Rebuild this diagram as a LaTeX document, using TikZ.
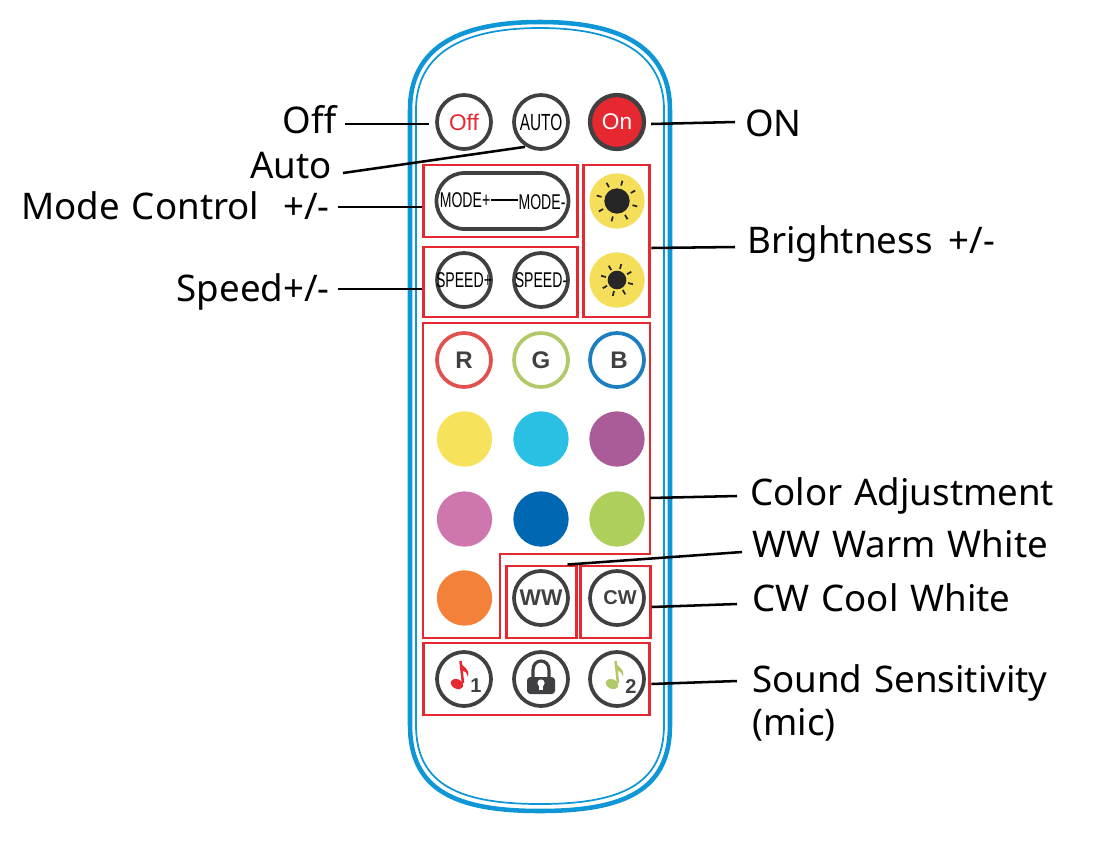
\documentclass[tikz,border=0pt]{standalone}
\usepackage{xcolor}
\usepackage{fontspec}
\setmainfont{Noto Sans}
\newfontfamily\btnfont{Liberation Sans}
\definecolor{remoteblue}{RGB}{14, 150, 214}
\definecolor{groupred}{RGB}{230, 40, 48}
\definecolor{btngrey}{RGB}{64, 64, 66}
\definecolor{sunyellow}{RGB}{245, 222, 90}
\definecolor{ringred}{RGB}{224, 82, 79}
\definecolor{ringgreen}{RGB}{178, 201, 106}
\definecolor{ringblue}{RGB}{27, 127, 191}
\definecolor{dotyellow}{RGB}{247, 227, 91}
\definecolor{dotcyan}{RGB}{41, 192, 227}
\definecolor{dotpurple}{RGB}{169, 92, 151}
\definecolor{dotpink}{RGB}{206, 118, 174}
\definecolor{dotnavy}{RGB}{0, 104, 178}
\definecolor{dotlime}{RGB}{175, 207, 93}
\definecolor{dotorange}{RGB}{243, 129, 58}
\usetikzlibrary{positioning, calc, arrows.meta}
\newcommand{\squeezed}[1]{\scalebox{0.66}[1]{#1}}
\newcommand{\widewords}{\spaceskip=9pt plus 1pt\relax}

\tikzset{
    x=0.75pt, y=-0.75pt,
    groupbox/.style={draw=groupred, line width=2.2pt, minimum width=#1, inner sep=0pt, rectangle},
    btn/.style={draw=btngrey, circle, line width=2.8pt, minimum size=40.5pt, inner sep=0pt, fill=white},
    dot/.style={circle, minimum size=41.5pt, inner sep=0pt, fill=#1},
    btnlabel/.style={font=\btnfont\fontsize{17}{17}\selectfont, text=btngrey, inner sep=0pt},
    boldlabel/.style={font=\btnfont\bfseries\fontsize{#1}{#1}\selectfont, text=btngrey, inner sep=0pt},
    narrow/.style={font=\btnfont\fontsize{16}{16}\selectfont, text=black, inner sep=0pt},
    callout/.style={font=\fontsize{27.5}{32}\selectfont\widewords, inner sep=0pt, text=black, text height=20pt, text depth=0pt},
    leader/.style={draw=black, line width=1.9pt},
    ray/.style={draw=black!85, line width=1.3pt}
}

\begin{document}
\begin{tikzpicture}
    \useasboundingbox (0,0) rectangle (1118,847);

    % remote body
    \draw[remoteblue, line width=3.4pt] (410,110) .. controls (410,50) and (455,22) .. (540,22) .. controls (625,22) and (670,50) .. (670,110)
        -- (670,725) .. controls (670,790) and (625,811) .. (540,811) .. controls (455,811) and (410,790) .. (410,725) -- cycle;
    \draw[remoteblue, line width=1.3pt] (416,110) .. controls (416,55) and (460,28) .. (540,28) .. controls (620,28) and (664,55) .. (664,110)
        -- (664,725) .. controls (664,785) and (620,804) .. (540,804) .. controls (460,804) and (416,785) .. (416,725) -- cycle;

    % groups
    \node[groupbox=116pt, minimum height=54pt] (modeGroup) at (500.5,201) {};
    \node[groupbox=116pt, minimum height=52.5pt] (speedGroup) at (500.5,282) {};
    \node[groupbox=50pt, minimum height=114pt] (brightGroup) at (616.5,241) {};
    \node[groupbox=52pt, minimum height=54pt] (wwGroup) at (541.5,602) {};
    \node[groupbox=52pt, minimum height=54pt] (cwGroup) at (615.5,602) {};
    \node[groupbox=170pt, minimum height=54pt] (soundGroup) at (536.5,679) {};
    \draw[groupred, line width=2.2pt] (423,323) -- (650,323) -- (650,554) -- (500,554) -- (500,638) -- (423,638) -- cycle;
    \coordinate (colorEdge) at (650,498);

    % top row
    \node[btn, label={[btnlabel, text=groupred]center:Off}] (offBtn) at (464,122) {};
    \node[btn] (autoBtn) at (541,122) {};
    \node[narrow, font=\btnfont\fontsize{17.5}{17.5}\selectfont] at (autoBtn) {\squeezed{AUTO}};
    \node[btn, fill=groupred, line width=3.2pt, label={[btnlabel, text=white]center:On}] (onBtn) at (617,122) {};

    % mode and speed
    \node[draw=btngrey, line width=2.8pt, rounded corners=21pt, minimum width=99pt, minimum height=42pt, inner sep=0pt] (modeBtn) at (502.5,201) {};
    \node[narrow] (modeUp) at (465,200) {\squeezed{MODE+}};
    \node[narrow] (modeDown) at (542,202) {\squeezed{MODE-}};
    \draw[black, line width=1.1pt] (modeUp.east) -- (modeUp.east -| modeDown.west);
    \node[btn] (speedUp) at (464,280) {};
    \node[btn] (speedDown) at (541,280) {};
    \node[narrow] at (speedUp) {\squeezed{SPEED+}};
    \node[narrow] at (speedDown) {\squeezed{SPEED-}};

    % brightness
    \node[dot=sunyellow] (brightUp) at (617,201) {};
    \node[dot=sunyellow] (brightDown) at (617,280) {};
    \fill[black!85] (brightUp) circle (9.5pt);
    \fill[black!85] (brightDown) circle (7pt);
    \foreach \a in {15,60,...,330} {
        \draw[ray] ($(brightUp)+(\a:16)$) -- ($(brightUp)+(\a:21)$);
        \draw[ray] ($(brightDown)+(\a:11.5)$) -- ($(brightDown)+(\a:16.5)$);
    }

    % colours
    \node[btn, draw=ringred, label={[boldlabel=18]center:R}] (redBtn) at (464,360) {};
    \node[btn, draw=ringgreen, label={[boldlabel=18]center:G}] (greenBtn) at (541,360) {};
    \node[btn, draw=ringblue] (blueBtn) at (617,360) {};
    \node[boldlabel=18] at (619,360) {B};
    \node[dot=dotyellow] (yellowDot) at (464.5,439) {};
    \node[dot=dotcyan] (cyanDot) at (541,439) {};
    \node[dot=dotpurple] (purpleDot) at (617,439) {};
    \node[dot=dotpink] (pinkDot) at (464.5,519) {};
    \node[dot=dotnavy] (navyDot) at (541,519) {};
    \node[dot=dotlime] (limeDot) at (617,519) {};
    \node[dot=dotorange] (orangeDot) at (464.5,598) {};
    \node[btn, label={[boldlabel=17]center:WW}] (wwBtn) at (541,598) {};
    \node[btn] (cwBtn) at (617,598) {};
    \node[boldlabel=15] at (620,598) {CW};

    % sound row
    \node[btn] (soundOne) at (464,679) {};
    \node[btn] (lockBtn) at (541,679) {};
    \node[btn] (soundTwo) at (617,679) {};
    \fill[groupred, rotate around={-25:(457,684)}] (457,684) ellipse (4.8pt and 3.6pt);
    \draw[groupred, line width=1.9pt] (463,683) -- (460.5,661);
    \fill[groupred] (460,661) .. controls (462,668) and (470,667) .. (468,677) .. controls (467,672) and (464,671) .. (461.5,670) -- cycle;
    \node[boldlabel=15] at (476,686) {1};
    \fill[ringgreen, rotate around={-25:(612,684)}] (612,684) ellipse (4.8pt and 3.6pt);
    \draw[ringgreen, line width=1.9pt] (618,683) -- (615.5,661);
    \fill[ringgreen] (615,661) .. controls (617,668) and (625,667) .. (623,677) .. controls (622,672) and (619,671) .. (616.5,670) -- cycle;
    \node[boldlabel=15] at (631,687) {2};
    \fill[btngrey, rounded corners=2.5pt] (527,677) rectangle (555,694);
    \draw[btngrey, line width=2.4pt] (533,677) -- (533,670) .. controls (533,658) and (549,658) .. (549,670) -- (549,677);
    \fill[white] (541,683) circle (2.7pt);
    \fill[white] (539,684) rectangle (543,690);

    % callouts
    \node[callout, anchor=east] (offLabel) at (337,120.5) {Off};
    \node[callout, anchor=east] (autoLabel) at (332,165) {Auto};
    \node[callout, anchor=east] (modeLabel) at (330,206) {Mode Control\hspace{9pt} +/-};
    \node[callout, anchor=east] (speedLabel) at (330,288) {Speed+/-};
    \node[callout, anchor=west] (onLabel) at (745,123) {ON};
    \node[callout, anchor=west] (brightLabel) at (747,240) {Brightness\hspace{3pt} +/-};
    \node[callout, anchor=west] (colorLabel) at (750,492) {Color Adjustment};
    \node[callout, anchor=west] (wwLabel) at (752,544) {WW Warm White};
    \node[callout, anchor=west] (cwLabel) at (752,598) {CW Cool White};
    \node[callout, anchor=west] (soundLabel) at (752,679) {Sound Sensitivity};
    \node[callout, anchor=west] (micLabel) at (752,722) {(mic)};

    % leaders
    \coordinate (autoEnd) at (343,173);
    \coordinate (wwEnd) at (742,552);
    \draw[leader] ($(offLabel.east)+(8,3.5)$) -- ($(offBtn.west)+(-6,2)$);
    \draw[leader] (autoEnd) -- ($(autoBtn.south)+(-16,-4)$);
    \draw[leader] ($(onBtn.east)+(5,2)$) -- ($(onLabel.west)+(-10,-1)$);
    \draw[leader] ($(modeLabel.east)+(8,1)$) -- ($(modeGroup.west)+(0,6)$);
    \draw[leader] ($(speedLabel.east)+(8,1)$) -- ($(speedGroup.west)+(0,7)$);
    \draw[leader] ($(brightGroup.east)+(0,7)$) -- ($(brightLabel.west)+(-12,7)$);
    \draw[leader] (colorEdge) -- ($(colorLabel.west)+(-13,4)$);
    \draw[leader] ($(wwGroup.north)+(26,0)$) -- (wwEnd);
    \draw[leader] ($(cwGroup.east)+(0,5)$) -- ($(cwLabel.west)+(-15,6)$);
    \draw[leader] ($(soundGroup.east)+(0,5)$) -- ($(soundLabel.west)+(-15,2)$);
\end{tikzpicture}
\end{document}
